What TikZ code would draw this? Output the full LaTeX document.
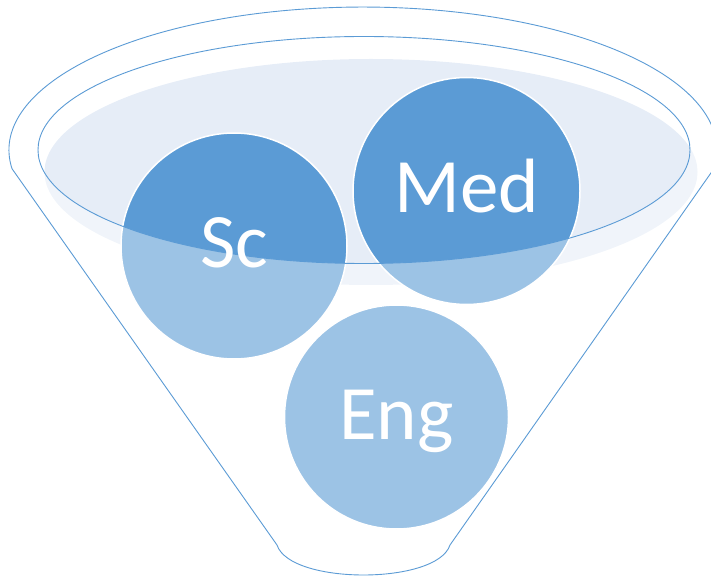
\documentclass[tikz,border=0pt]{standalone}
\usepackage{fontspec}
\setmainfont{Carlito}
\definecolor{accent}{HTML}{5B9BD5}
\definecolor{pale}{HTML}{E6EDF7}
\begin{document}
\begin{tikzpicture}[x=1pt,y=1pt,
  ball/.style={circle,fill=accent,draw=white,line width=1.5pt,inner sep=0pt},
  balltext/.style={inner sep=0pt,text=white,font=\fontsize{77}{80}\selectfont,
    text height=50pt,text depth=6pt},
  rim/.style={draw=accent,line width=0.9pt}]
\useasboundingbox (0,0) rectangle (711,576);
% pale liquid surface
\fill[pale] (371,404) ellipse [x radius=326.5, y radius=113];
% circles
\node[ball,minimum size=226pt] (sc) at (234,330) {};
\node[ball,minimum size=227pt] (med) at (466.5,385) {};
\node[ball,minimum size=224pt] (eng) at (396.5,159) {};
% glass body overlay
\fill[white,fill opacity=0.4,even odd rule]
  (12,407.3) arc[start angle=187.5,end angle=-7.5,x radius=354,y radius=143]
  -- (450,31) .. controls (437,-9) and (290,-9) .. (277,31) -- cycle
  (364,426) ellipse [x radius=326, y radius=113.5];
% outlines
\draw[rim,line join=round]
  (12,407.3) arc[start angle=187.5,end angle=-7.5,x radius=354,y radius=143]
  -- (450,31) .. controls (437,-9) and (290,-9) .. (277,31) -- cycle;
\draw[rim] (364,426) ellipse [x radius=326, y radius=113.5];
% labels
\node[balltext] (sclabel) at (sc.center) {Sc};
\node[balltext] (medlabel) at (med.center) {Med};
\node[balltext] (englabel) at (eng.center) {Eng};
\end{tikzpicture}
\end{document}
